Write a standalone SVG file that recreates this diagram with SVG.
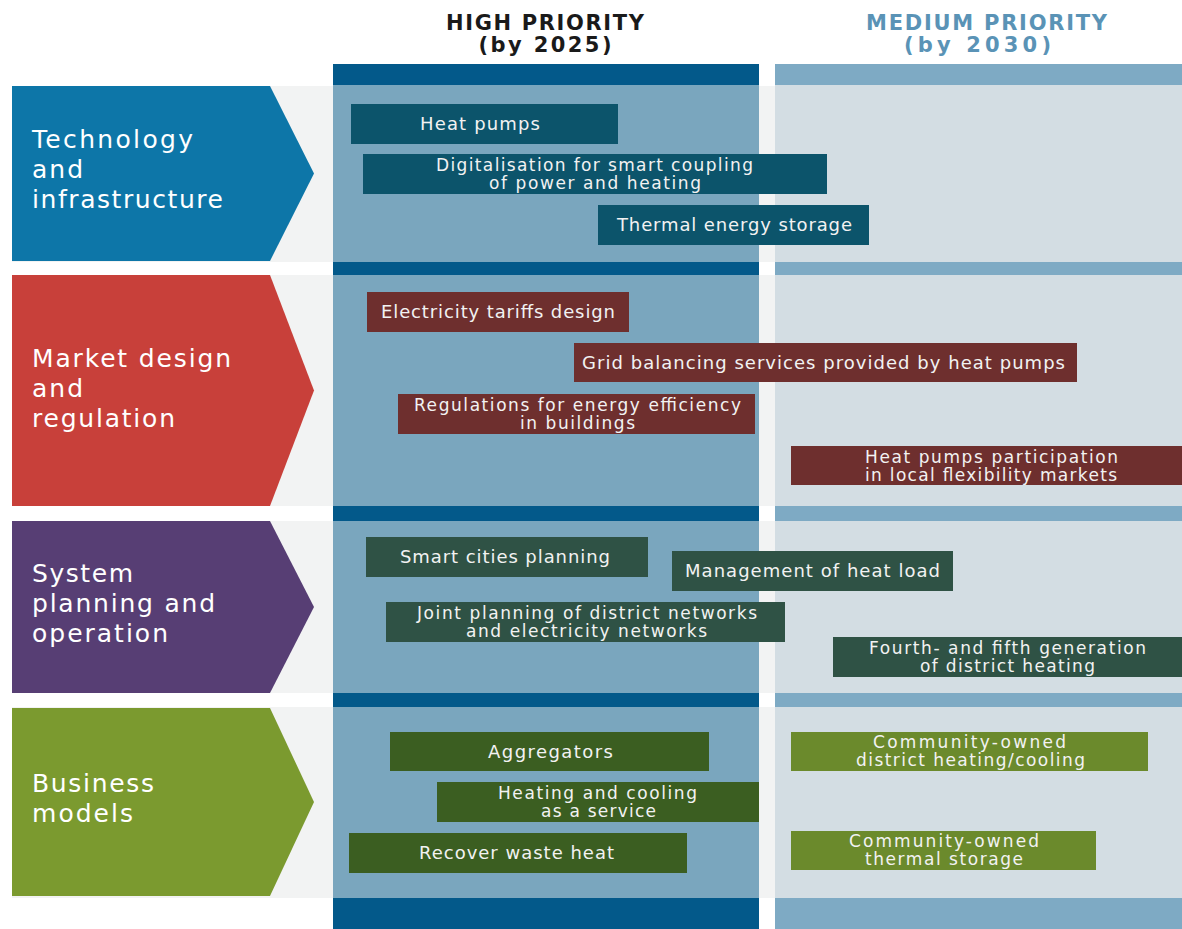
<svg xmlns="http://www.w3.org/2000/svg" width="1182" height="929" viewBox="0 0 1182 929">
<style>
.hdr{font-family:"DejaVu Sans","Liberation Sans",sans-serif;font-weight:bold;font-size:21px;text-anchor:middle}
.hi{fill:#1a1a1a}
.md{fill:#5a93b6}
.rowbg{fill:#f2f3f3}
.colH{fill:#7aa6be}
.colM{fill:#d3dde3}
.barH{fill:#03598a}
.barM{fill:#7eaac4}
.cat{font-family:"DejaVu Sans","Liberation Sans",sans-serif;font-size:25px;fill:#ffffff}
.lbl{font-family:"DejaVu Sans","Liberation Sans",sans-serif;font-size:18px;fill:#f2f2f2;text-anchor:middle}
.l2{font-size:17px}
.b1{fill:#0c546b}
.b2{fill:#6e2f2e}
.b3{fill:#2f5245}
.b4{fill:#3b5e21}
.b4m{fill:#6b8a2c}
</style>
<rect width="1182" height="929" fill="#ffffff"/>
<!-- headers -->
<g id="header-high">
<text class="hdr hi" x="545" y="30" textLength="198">HIGH PRIORITY</text>
<text class="hdr hi" x="545" y="52" textLength="133">(by 2025)</text>
</g>
<g id="header-medium">
<text class="hdr md" x="986.5" y="30" textLength="241">MEDIUM PRIORITY</text>
<text class="hdr md" x="977.5" y="52" textLength="147">(by 2030)</text>
</g>
<!-- row backgrounds -->
<rect class="rowbg" x="12" y="86" width="1170" height="176"/>
<rect class="rowbg" x="12" y="275" width="1170" height="231"/>
<rect class="rowbg" x="12" y="521" width="1170" height="172"/>
<rect class="rowbg" x="12" y="707" width="1170" height="191"/>
<!-- columns -->
<g id="column-high">
<rect class="barH" x="333" y="64" width="426" height="21"/>
<rect class="colH" x="333" y="85" width="426" height="177"/>
<rect class="barH" x="333" y="262" width="426" height="13"/>
<rect class="colH" x="333" y="275" width="426" height="231"/>
<rect class="barH" x="333" y="506" width="426" height="15"/>
<rect class="colH" x="333" y="521" width="426" height="172"/>
<rect class="barH" x="333" y="693" width="426" height="14"/>
<rect class="colH" x="333" y="707" width="426" height="191"/>
<rect class="barH" x="333" y="898" width="426" height="31"/>
</g>
<g id="column-medium">
<rect class="barM" x="775" y="64" width="407" height="21"/>
<rect class="colM" x="775" y="85" width="407" height="177"/>
<rect class="barM" x="775" y="262" width="407" height="13"/>
<rect class="colM" x="775" y="275" width="407" height="231"/>
<rect class="barM" x="775" y="506" width="407" height="15"/>
<rect class="colM" x="775" y="521" width="407" height="172"/>
<rect class="barM" x="775" y="693" width="407" height="14"/>
<rect class="colM" x="775" y="707" width="407" height="191"/>
<rect class="barM" x="775" y="898" width="407" height="31"/>
</g>
<!-- category arrows -->
<g id="cat-technology">
<polygon points="12,86 270,86 314,173.5 270,261 12,261" fill="#0d76a8"/>
<text class="cat" x="32" y="148" textLength="161">Technology</text>
<text class="cat" x="32" y="178" textLength="51">and</text>
<text class="cat" x="32" y="208" textLength="191">infrastructure</text>
</g>
<g id="cat-market">
<polygon points="12,275 270,275 314,390.5 270,506 12,506" fill="#c8403a"/>
<text class="cat" x="32" y="367" textLength="199">Market design</text>
<text class="cat" x="32" y="397" textLength="51">and</text>
<text class="cat" x="32" y="427" textLength="143">regulation</text>
</g>
<g id="cat-system">
<polygon points="12,521 270,521 314,607 270,693 12,693" fill="#573e74"/>
<text class="cat" x="32" y="582" textLength="101">System</text>
<text class="cat" x="32" y="612" textLength="183">planning and</text>
<text class="cat" x="32" y="642" textLength="136">operation</text>
</g>
<g id="cat-business">
<polygon points="12,708 270,708 314,802 270,896 12,896" fill="#7b9a2f"/>
<text class="cat" x="32" y="792" textLength="122">Business</text>
<text class="cat" x="32" y="822" textLength="101">models</text>
</g>
<!-- row 1 items -->
<g id="heat-pumps">
<rect class="b1" x="351" y="104" width="267" height="40"/>
<text class="lbl" x="480" y="130" textLength="120">Heat pumps</text>
</g>
<g id="digitalisation">
<rect class="b1" x="363" y="154" width="464" height="40"/>
<text class="lbl l2" x="594.5" y="171" textLength="317">Digitalisation for smart coupling</text>
<text class="lbl l2" x="595" y="189" textLength="212">of power and heating</text>
</g>
<g id="thermal-energy-storage">
<rect class="b1" x="598" y="205" width="271" height="40"/>
<text class="lbl" x="734.5" y="231" textLength="235">Thermal energy storage</text>
</g>
<!-- row 2 items -->
<g id="electricity-tariffs">
<rect class="b2" x="367" y="292" width="262" height="40"/>
<text class="lbl" x="498" y="318" textLength="234">Electricity tariffs design</text>
</g>
<g id="grid-balancing">
<rect class="b2" x="574" y="343" width="503" height="39"/>
<text class="lbl" x="823.5" y="368.5" textLength="483">Grid balancing services provided by heat pumps</text>
</g>
<g id="regulations">
<rect class="b2" x="398" y="394" width="357" height="40"/>
<text class="lbl l2" x="577.5" y="411" textLength="327">Regulations for energy efficiency</text>
<text class="lbl l2" x="577.5" y="429" textLength="115">in buildings</text>
</g>
<g id="local-flexibility">
<rect class="b2" x="791" y="446" width="391" height="39"/>
<text class="lbl l2" x="991.5" y="463" textLength="253">Heat pumps participation</text>
<text class="lbl l2" x="991" y="481" textLength="252">in local flexibility markets</text>
</g>
<!-- row 3 items -->
<g id="smart-cities">
<rect class="b3" x="366" y="537" width="282" height="40"/>
<text class="lbl" x="505" y="563" textLength="210">Smart cities planning</text>
</g>
<g id="heat-load">
<rect class="b3" x="672" y="551" width="281" height="40"/>
<text class="lbl" x="812.5" y="577" textLength="255">Management of heat load</text>
</g>
<g id="joint-planning">
<rect class="b3" x="386" y="602" width="399" height="40"/>
<text class="lbl l2" x="587" y="619" textLength="340">Joint planning of district networks</text>
<text class="lbl l2" x="586.5" y="637" textLength="241">and electricity networks</text>
</g>
<g id="district-heating-gen">
<rect class="b3" x="833" y="637" width="349" height="40"/>
<text class="lbl l2" x="1007.5" y="654" textLength="277">Fourth- and fifth generation</text>
<text class="lbl l2" x="1007.5" y="672" textLength="175">of district heating</text>
</g>
<!-- row 4 items -->
<g id="aggregators">
<rect class="b4" x="390" y="732" width="319" height="39"/>
<text class="lbl" x="550.5" y="757.5" textLength="125">Aggregators</text>
</g>
<g id="heating-cooling-service">
<rect class="b4" x="437" y="782" width="322" height="40"/>
<text class="lbl l2" x="597.5" y="799" textLength="199">Heating and cooling</text>
<text class="lbl l2" x="598.5" y="817" textLength="115">as a service</text>
</g>
<g id="recover-waste-heat">
<rect class="b4" x="349" y="833" width="338" height="40"/>
<text class="lbl" x="516.5" y="859" textLength="195">Recover waste heat</text>
</g>
<g id="community-district">
<rect class="b4m" x="791" y="732" width="357" height="39"/>
<text class="lbl l2" x="969.5" y="748" textLength="193">Community-owned</text>
<text class="lbl l2" x="970.5" y="766" textLength="229">district heating/cooling</text>
</g>
<g id="community-thermal">
<rect class="b4m" x="791" y="831" width="305" height="39"/>
<text class="lbl l2" x="944" y="847" textLength="190">Community-owned</text>
<text class="lbl l2" x="944" y="865" textLength="158">thermal storage</text>
</g>
<g id="connectors"></g>
</svg>
